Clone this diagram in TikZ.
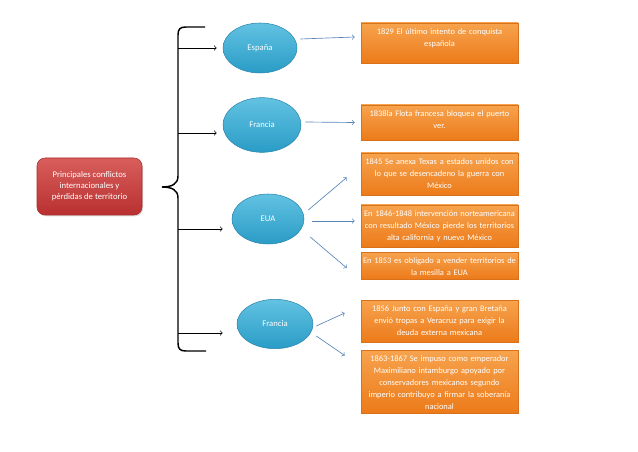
\documentclass[tikz,border=0pt]{standalone}
\usepackage{fontspec}
\setmainfont{Carlito}
\usepackage{tikz}
\usetikzlibrary{
        arrows,
        calc,
        positioning,
        shadows,
        shapes,
        shapes.geometric
    }
\definecolor{redtop}{HTML}{D85E5C}
\definecolor{redbot}{HTML}{B8302F}
\definecolor{redline}{HTML}{A82A2A}
\definecolor{blutop}{HTML}{62C2E2}
\definecolor{blubot}{HTML}{2A9CC6}
\definecolor{bluline}{HTML}{2B86AC}
\definecolor{orgtop}{HTML}{F7A34E}
\definecolor{orgbot}{HTML}{EC7B1A}
\definecolor{orgline}{HTML}{D9701A}
\definecolor{arrowblue}{HTML}{5B86B8}
\tikzset{>=to,auto}
\tikzset{
    mainbox/.style={rectangle,rounded corners=6pt,draw=redline,top color=redtop,bottom color=redbot,
        text=white,align=center,minimum width=78.75pt,minimum height=42.75pt,inner sep=1pt,
        font=\fontsize{6.5}{8.25}\selectfont,
        drop shadow={shadow xshift=0.8pt,shadow yshift=-1pt,opacity=0.3}},
    country/.style={ellipse,draw=bluline,top color=blutop,bottom color=blubot,
        text=white,inner sep=0pt,font=\fontsize{6.5}{8}\selectfont},
    event/.style={rectangle,draw=orgline,top color=orgtop,bottom color=orgbot,
        minimum width=117.75pt,inner sep=0pt,
        drop shadow={shadow xshift=0.8pt,shadow yshift=-1pt,opacity=0.3}},
    eventtext/.style={anchor=north,text=white,align=center,text width=117pt,
        inner xsep=0pt,inner ysep=4pt,font=\fontsize{6.3}{9}\selectfont},
    karrow/.style={->,black,line width=0.5pt},
    barrow/.style={->,arrowblue,line width=0.5pt}
}
\begin{document}
\begin{tikzpicture}[x=0.75pt,y=-0.75pt]
    \useasboundingbox (0,0) rectangle (638,452);

    \node[mainbox] (r1) at (89.5,186.5) {Principales conflictos\\internacionales y\\pérdidas de territorio};

    \draw[line width=1.1pt] (205,27) -- (186,27) .. controls (180,27) and (178,29) .. (178,35)
        -- (178,176) .. controls (178,184) and (172,187) .. (162,187)
        .. controls (172,187) and (178,190) .. (178,198)
        -- (178,343) .. controls (178,349) and (180,351) .. (186,351) -- (206,351);

    \coordinate (b1) at (178,48);
    \coordinate (b2) at (178,133);
    \coordinate (b3) at (178,229);
    \coordinate (b4) at (178,333);

    \node[country,minimum width=55.5pt,minimum height=37.5pt] (e1) at (260,48)  {España};
    \node[country,minimum width=58.5pt,minimum height=41pt]   (e2) at (262,125) {Francia};
    \node[country,minimum width=54pt,minimum height=37.5pt]   (e3) at (268,219) {EUA};
    \node[country,minimum width=57pt,minimum height=37pt]     (e4) at (275,324) {Francia};

    \draw[karrow] (b1) -- ([xshift=-4.5pt]b1 -| e1.west);
    \draw[karrow] (b2) -- ([xshift=-4.5pt]b2 -| e2.west);
    \draw[karrow] (b3) -- ([xshift=-6.75pt]b3 -| e3.west);
    \draw[karrow] (b4) -- ([xshift=-10.5pt]b4 -| e4.west);

    \node[event,minimum height=30pt]    (o1) at (439.5,43)    {};
    \node[event,minimum height=26.25pt] (o2) at (439.5,122.5) {};
    \node[event,minimum height=31.5pt]  (o3) at (439.5,174)   {};
    \node[event,minimum height=31.5pt]  (o4) at (439.5,226)   {};
    \node[event,minimum height=20.25pt] (o5) at (439.5,265.5) {};
    \node[event,minimum height=31.5pt]  (o6) at (439.5,321)   {};
    \node[event,minimum height=47.25pt] (o7) at (439.5,381.5) {};

    \node[eventtext] at (o1.north) {1829 El último intento de conquista\\española};
    \node[eventtext] at (o2.north) {1838la Flota francesa bloquea el puerto\\ver.};
    \node[eventtext] at (o3.north) {1845 Se anexa Texas a estados unidos con\\lo que se desencadeno la guerra con\\México};
    \node[eventtext] at (o4.north) {En 1846-1848 intervención norteamericana\\con resultado México pierde los territorios\\alta california y nuevo México};
    \node[eventtext] at (o5.north) {En 1853 es obligado a vender territorios de\\la mesilla a EUA};
    \node[eventtext] at (o6.north) {1856 Junto con España y gran Bretaña\\envió tropas a Veracruz para exigir la\\deuda externa mexicana};
    \node[eventtext] at (o7.north) {1863-1867 Se impuso como emperador\\Maximiliano intamburgo apoyado por\\conservadores mexicanos segundo\\imperio contribuyo a firmar la soberanía\\nacional};

    \draw[barrow] ($(e1.east)+(3,-9)$) -- ($(o1.west)+(-6,-6)$);
    \draw[barrow] ($(e2.east)+(4,-3)$) -- ($(o2.west)+(-6,0)$);
    \draw[barrow] ($(e3.east)+(4,-9)$) -- ($(o3.west)+(-14,3.5)$);
    \draw[barrow] ($(e3.east)+(8,2)$)  -- ($(o4.west)+(-6,-5)$);
    \draw[barrow] ($(e3.east)+(6,18)$) -- ($(o5.west)+(-14,2.5)$);
    \draw[barrow] ($(e4.east)+(3,2)$)  -- ($(o6.west)+(-16,-8)$);
    \draw[barrow] ($(e4.east)+(3,12)$) -- ($(o7.west)+(-16,-26)$);
\end{tikzpicture}
\end{document}
